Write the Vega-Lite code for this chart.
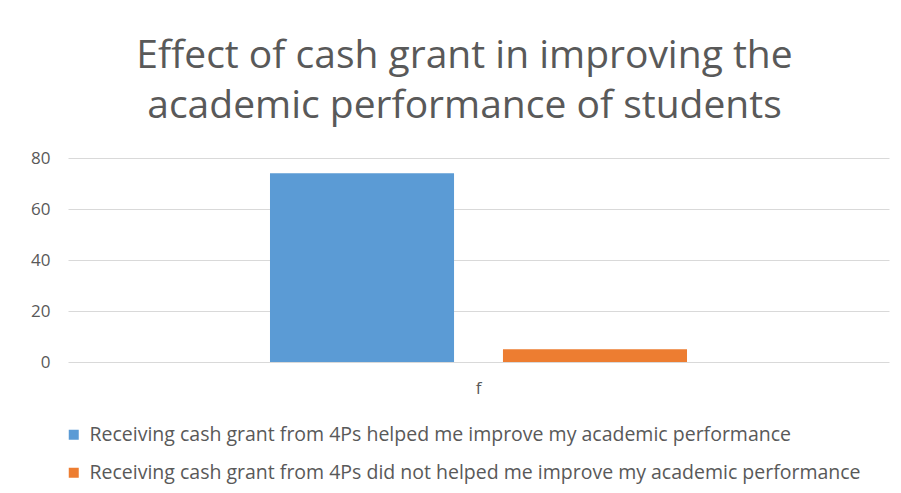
{
  "$schema": "https://vega.github.io/schema/vega-lite/v6.json",
  "autosize": "none",
  "width": 821,
  "height": 204,
  "padding": {"left": 68, "top": 158, "right": 12, "bottom": 131},
  "background": "white",
  "title": {
    "text": ["Effect of cash grant in improving the", "academic performance of students"],
    "font": "Open Sans",
    "fontSize": 39,
    "fontWeight": "normal",
    "color": "#595959",
    "lineHeight": 50,
    "anchor": "middle",
    "dx": -14,
    "offset": 23
  },
  "data": {
    "values": [
      {"cat": "f", "series": "Receiving cash grant from 4Ps helped me improve my academic performance", "value": 74},
      {"cat": "f", "series": "Receiving cash grant from 4Ps did not helped me improve my academic performance", "value": 5}
    ]
  },
  "mark": {"type": "bar"},
  "encoding": {
    "x": {
      "field": "cat",
      "type": "nominal",
      "scale": {"paddingInner": 0, "paddingOuter": 0},
      "axis": {"title": null, "labelAngle": 0, "ticks": false, "domain": false, "labelFont": "Open Sans", "labelFontSize": 17, "labelColor": "#595959", "labelPadding": 18}
    },
    "xOffset": {
      "field": "series",
      "type": "nominal",
      "sort": ["Receiving cash grant from 4Ps helped me improve my academic performance", "Receiving cash grant from 4Ps did not helped me improve my academic performance"],
      "scale": {"paddingInner": 0.21, "paddingOuter": 0.867}
    },
    "y": {
      "field": "value",
      "type": "quantitative",
      "scale": {"domain": [0, 80]},
      "axis": {"title": null, "values": [0, 20, 40, 60, 80], "ticks": false, "domain": false, "gridColor": "#d9d9d9", "labelFont": "Open Sans", "labelFontSize": 17, "labelColor": "#595959", "labelPadding": 18}
    },
    "color": {
      "field": "series",
      "type": "nominal",
      "sort": ["Receiving cash grant from 4Ps helped me improve my academic performance", "Receiving cash grant from 4Ps did not helped me improve my academic performance"],
      "scale": {"range": ["#5B9BD5", "#ED7D31"]},
      "legend": {
        "title": null,
        "orient": "none",
        "legendX": -4,
        "legendY": 267,
        "direction": "vertical",
        "symbolType": "square",
        "symbolSize": 100,
        "symbolStrokeWidth": 0,
        "labelFont": "Open Sans",
        "labelFontSize": 19.5,
        "labelColor": "#595959",
        "labelLimit": 900,
        "rowPadding": 17,
        "labelOffset": 6
      }
    }
  },
  "config": {"view": {"stroke": null}}
}
